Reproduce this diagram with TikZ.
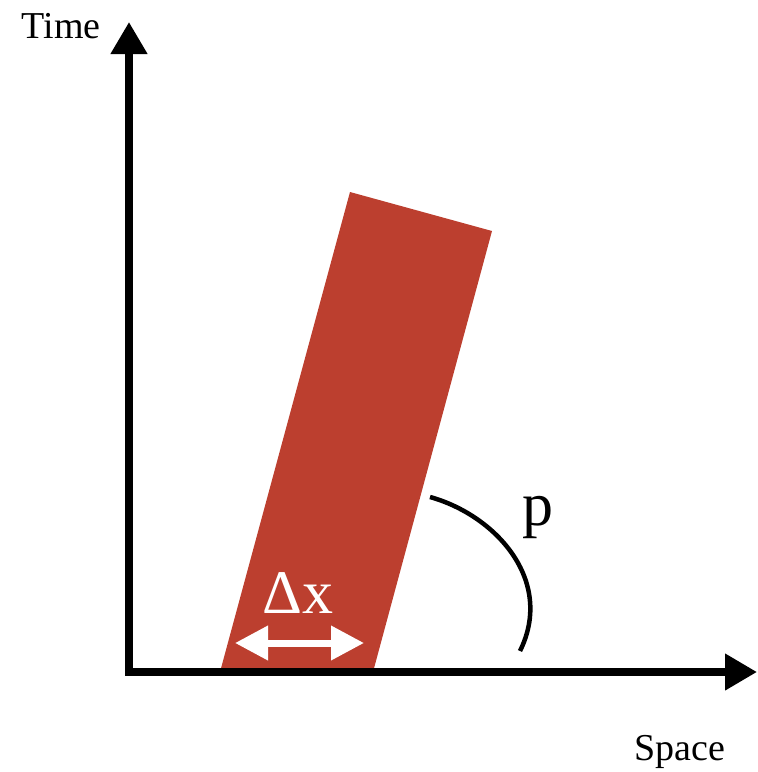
\documentclass[tikz,border=0pt]{standalone}
\usepackage{fontspec}
\setmainfont{Liberation Serif}
\usetikzlibrary{arrows.meta}
\definecolor{bandred}{RGB}{188,63,47}
\tikzset{
  axis/.style={line width=7.5pt, -{Triangle[length=32pt,width=35pt]}},
  band/.style={fill=bandred, draw=none},
  dxarrow/.style={white, line width=7pt, {Triangle[length=33pt,width=33pt]}-{Triangle[length=33pt,width=33pt]}},
  anglearc/.style={line width=4.5pt},
  lbl/.style={anchor=base, inner sep=0pt, font=\fontsize{38}{40}\selectfont},
  biglbl/.style={anchor=base, inner sep=0pt, font=\fontsize{62}{64}\selectfont}
}
\begin{document}
\begin{tikzpicture}[x=1pt,y=-1pt]
\useasboundingbox (0,0) rectangle (758,772);
% band
\path[band] (350,192) -- (492,231) -- (373,672) -- (220,672) -- cycle;
% axes
\coordinate (O) at (129,672);
\coordinate (T) at (129,22);
\coordinate (Ob) at (125,672);
\coordinate (S) at (757,672);
\draw[axis] (O) -- (T);
\draw[axis] (Ob) -- (S);
% delta x arrow
\coordinate (dxL) at (235,643);
\coordinate (dxR) at (364,643);
\draw[dxarrow] (dxL) -- (dxR);
% angle arc
\coordinate (a0) at (430,497);
\coordinate (a1) at (520,651);
\draw[anglearc] (a0) .. controls (495,515) and (555,580) .. (a1);
% labels
\node[lbl] (time) at (61,38) {Time};
\node[lbl] (space) at (680,760) {Space};
\node[biglbl] (p) at (538,525) {p};
\node[biglbl, text=white] (dx) at (298,613) {Δx};
\end{tikzpicture}
\end{document}
